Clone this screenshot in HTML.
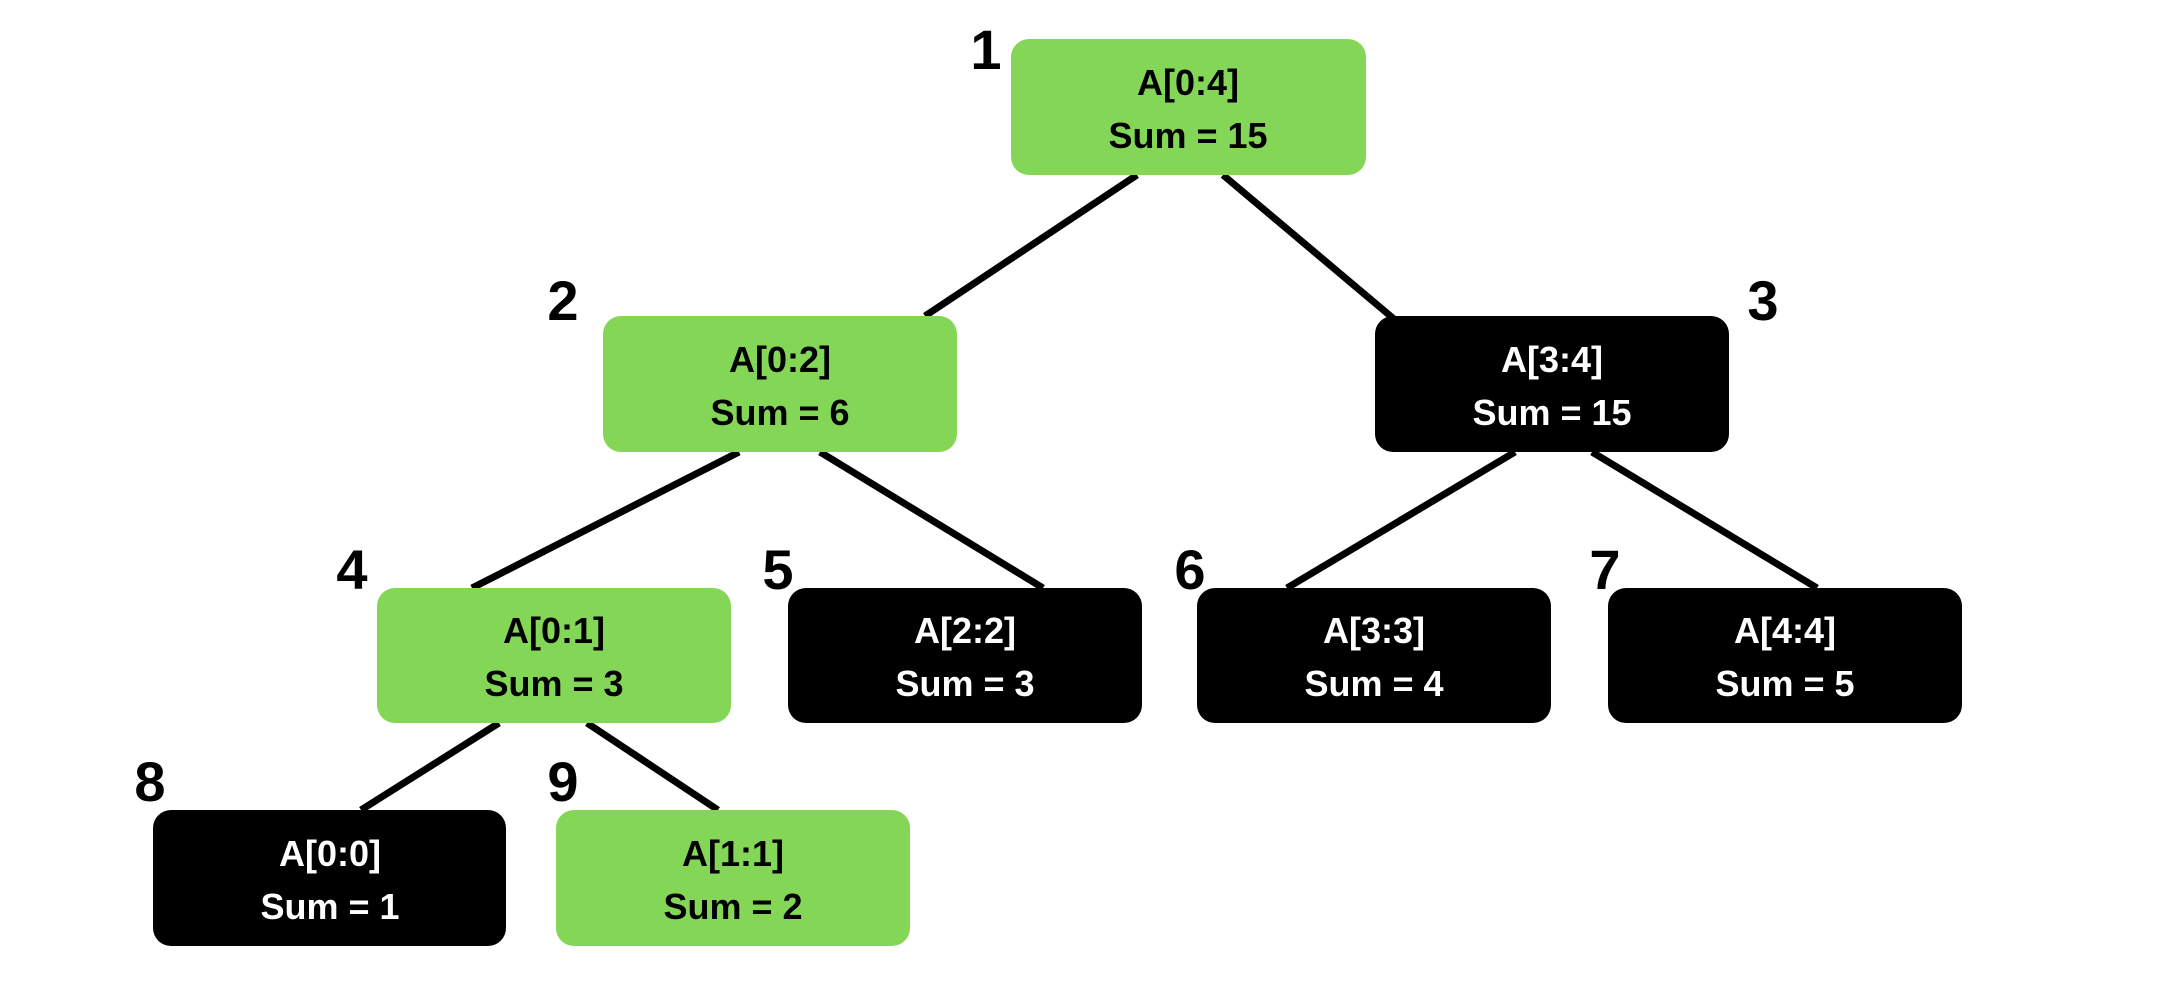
<!DOCTYPE html>
<html><head><meta charset="utf-8"><style>html,body{margin:0;padding:0;background:#fff}svg{display:block}</style></head>
<body>
<svg width="2164" height="1008" viewBox="0 0 2164 1008" xmlns="http://www.w3.org/2000/svg" font-family="Liberation Sans, Arial, sans-serif" font-weight="bold">
<g stroke="#000" stroke-width="7">
<line x1="1137" y1="175" x2="925" y2="316"/>
<line x1="1223" y1="175" x2="1394" y2="319"/>
<line x1="739" y1="452" x2="472" y2="588"/>
<line x1="820" y1="452" x2="1043" y2="588"/>
<line x1="1515" y1="452" x2="1287" y2="588"/>
<line x1="1592" y1="452" x2="1817" y2="588"/>
<line x1="499" y1="723" x2="361" y2="810"/>
<line x1="587" y1="723" x2="718" y2="810"/>
</g>
<g>
<rect x="1011" y="39" width="355" height="136" rx="18" fill="#84d656"/>
<rect x="603" y="316" width="354" height="136" rx="18" fill="#84d656"/>
<rect x="1375" y="316" width="354" height="136" rx="18" fill="#000"/>
<rect x="377" y="588" width="354" height="135" rx="18" fill="#84d656"/>
<rect x="788" y="588" width="354" height="135" rx="18" fill="#000"/>
<rect x="1197" y="588" width="354" height="135" rx="18" fill="#000"/>
<rect x="1608" y="588" width="354" height="135" rx="18" fill="#000"/>
<rect x="153" y="810" width="353" height="136" rx="18" fill="#000"/>
<rect x="556" y="810" width="354" height="136" rx="18" fill="#84d656"/>
</g>
<g font-size="36" text-anchor="middle">
<text x="1188" y="95" fill="#000">A[0:4]</text><text x="1188" y="148" fill="#000">Sum = 15</text>
<text x="780" y="372" fill="#000">A[0:2]</text><text x="780" y="425" fill="#000">Sum = 6</text>
<text x="1552" y="372" fill="#fff">A[3:4]</text><text x="1552" y="425" fill="#fff">Sum = 15</text>
<text x="554" y="643" fill="#000">A[0:1]</text><text x="554" y="696" fill="#000">Sum = 3</text>
<text x="965" y="643" fill="#fff">A[2:2]</text><text x="965" y="696" fill="#fff">Sum = 3</text>
<text x="1374" y="643" fill="#fff">A[3:3]</text><text x="1374" y="696" fill="#fff">Sum = 4</text>
<text x="1785" y="643" fill="#fff">A[4:4]</text><text x="1785" y="696" fill="#fff">Sum = 5</text>
<text x="330" y="866" fill="#fff">A[0:0]</text><text x="330" y="919" fill="#fff">Sum = 1</text>
<text x="733" y="866" fill="#000">A[1:1]</text><text x="733" y="919" fill="#000">Sum = 2</text>
</g>
<g font-size="56" text-anchor="middle" fill="#000">
<text x="986" y="69">1</text>
<text x="563" y="320">2</text>
<text x="1763" y="320">3</text>
<text x="352" y="589">4</text>
<text x="778" y="589">5</text>
<text x="1190" y="589">6</text>
<text x="1605" y="589">7</text>
<text x="150" y="801">8</text>
<text x="563" y="801">9</text>
</g>
</svg>
</body></html>
